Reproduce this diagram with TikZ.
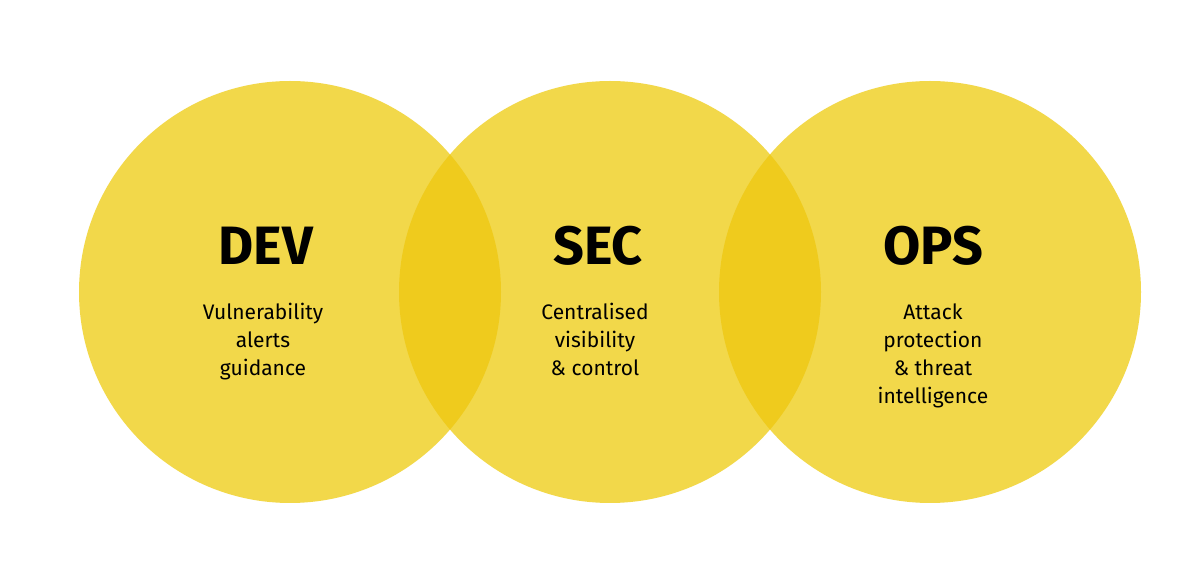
\documentclass[tikz,border=0pt]{standalone}
\usepackage{fontspec}
\setmainfont{Fira Sans}
\usepackage{tikz}
\usetikzlibrary{positioning}

\definecolor{circfill}{HTML}{F2D84A}
\definecolor{lensfill}{HTML}{EFCB1D}

\tikzset{
  title/.style={font=\fontsize{27}{30}\selectfont\bfseries, text=black, inner sep=0pt, anchor=base},
  blurb/.style={font=\fontsize{10.5}{14}\selectfont, text=black, inner sep=0pt, align=center, anchor=north}
}

\begin{document}
\begin{tikzpicture}[x=0.5pt,y=-0.5pt]
    \useasboundingbox (0,0) rectangle (1200,571);
    \fill[white] (0,0) rectangle (1200,571);

    % Three circles
    \fill[circfill] (290,292) circle (211);
    \fill[circfill] (610,292) circle (211);
    \fill[circfill] (930,292) circle (211);

    % Overlaps
    \begin{scope}
        \clip (290,292) circle (211);
        \fill[lensfill] (610,292) circle (211);
    \end{scope}
    \begin{scope}
        \clip (610,292) circle (211);
        \fill[lensfill] (930,292) circle (211);
    \end{scope}

    % Headings
    \node[title] (dev) at (266,265) {DEV};
    \node[title] (sec) at (598,265) {SEC};
    \node[title] (ops) at (933,265) {OPS};

    % Descriptions
    \node[blurb] (devtxt) at (263,303) {Vulnerability\\alerts\\guidance};
    \node[blurb] (sectxt) at (595,303) {Centralised\\visibility\\\& control};
    \node[blurb] (opstxt) at (933,303) {Attack\\protection\\\& threat\\intelligence};
\end{tikzpicture}
\end{document}
